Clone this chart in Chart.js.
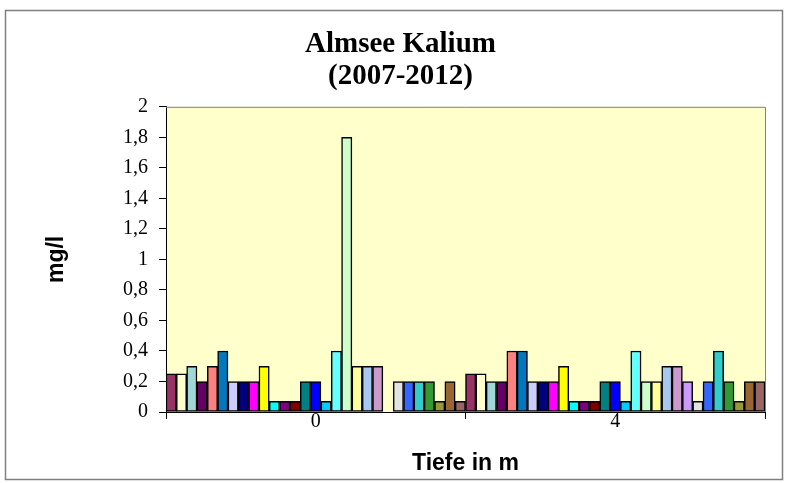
<!DOCTYPE html>
<html>
<head>
<meta charset="utf-8">
<script src="https://cdn.jsdelivr.net/npm/chart.js@4/dist/chart.umd.min.js"></script>
<style>
  html, body { margin: 0; padding: 0; background: #fff; }
  #wrap { width: 789px; height: 483px; }
</style>
</head>
<body>
<div id="wrap"><canvas id="c" width="789" height="483"></canvas></div>
<script>
// ---- data ----
const categories = ['0', '4'];
const titleLines = ['Almsee Kalium', '(2007-2012)'];
const yTitle = 'mg/l';
const xTitle = 'Tiefe in m';
const seriesColors = [
  '#993366', '#FFFFCC', '#A0D8D8', '#660066', '#FF8080', '#0078C0', '#CCCCFF', '#000080',
  '#FF00FF', '#FFFF00', '#00FFFF', '#800080', '#800000', '#008080', '#0000FF', '#00CCFF',
  '#66FFFF', '#CCFFCC', '#FFFF99', '#A6C8F0', '#CC99CC', '#CC99FF', '#E3E3E3', '#3366FF',
  '#33CCCC', '#339933', '#999933', '#996633', '#996666'
];
const depth0Values = [0.25, 0.25, 0.3, 0.2, 0.3, 0.4, 0.2, 0.2, 0.2, 0.3, 0.07, 0.07, 0.07, 0.2, 0.2,
  0.07, 0.4, 1.8, 0.3, 0.3, 0.3, null, 0.2, 0.2, 0.2, 0.2, 0.07, 0.2, 0.07];
const depth4Values = [0.25, 0.25, 0.2, 0.2, 0.4, 0.4, 0.2, 0.2, 0.2, 0.3, 0.07, 0.07, 0.07, 0.2, 0.2,
  0.07, 0.4, 0.2, 0.2, 0.3, 0.3, 0.2, 0.07, 0.2, 0.4, 0.2, 0.07, 0.2, 0.2];
const yMin = 0, yMax = 2, yStep = 0.2;

// ---- build datasets ----
const datasets = seriesColors.map((col, i) => ({
  label: 'Serie ' + (i + 1),
  data: [depth0Values[i], depth4Values[i]],
  backgroundColor: col,
  borderColor: '#000000',
  borderWidth: 1.5,
  borderSkipped: false,
  yAxisID: 'y'
}));

const framePlugin = {
  id: 'frame',
  beforeDraw(chart) {
    const ctx = chart.ctx, a = chart.chartArea;
    ctx.save();
    ctx.fillStyle = '#ffffff';
    ctx.fillRect(0, 0, chart.width, chart.height);
    ctx.strokeStyle = '#7f7f7f';
    ctx.lineWidth = 1.5;
    ctx.strokeRect(5.5, 10.5, 777, 469);
    ctx.fillStyle = '#FFFFCC';
    ctx.fillRect(a.left, a.top, a.right - a.left, a.bottom - a.top);
    ctx.restore();
  },
  afterDatasetsDraw(chart) {
    const ctx = chart.ctx, a = chart.chartArea;
    ctx.save();
    ctx.strokeStyle = '#808080';
    ctx.lineWidth = 1;
    ctx.beginPath();
    ctx.moveTo(a.left, a.top + 0.5);
    ctx.lineTo(a.right + 0.5, a.top + 0.5);
    ctx.lineTo(a.right + 0.5, a.bottom);
    ctx.stroke();
    ctx.restore();
  }
};

new Chart(document.getElementById('c'), {
  type: 'bar',
  data: { labels: categories, datasets },
  plugins: [framePlugin],
  options: {
    responsive: false,
    animation: false,
    locale: 'de-DE',
    layout: { padding: { left: 12, right: 0, top: 0, bottom: 0 } },
    datasets: { bar: { categoryPercentage: 1.0, barPercentage: 1.0 } },
    plugins: {
      legend: { display: false },
      tooltip: { enabled: false },
      title: {
        display: true,
        text: titleLines,
        color: '#000',
        font: { family: 'Liberation Serif', size: 29, weight: 'bold', lineHeight: 1.1 },
        padding: { top: 29, bottom: 14 }
      }
    },
    scales: {
      x: {
        afterFit(s) { s.height = 71; },
        grid: { offset: true, drawOnChartArea: false, tickLength: 7, color: '#000', lineWidth: 1 },
        border: { color: '#000', width: 1 },
        ticks: { color: '#000', padding: -9, font: { family: 'Liberation Serif', size: 20 } },
        title: {
          display: true, text: xTitle, color: '#000',
          font: { family: 'Liberation Sans', size: 23, weight: 'bold' },
          padding: { top: 0, bottom: 6 }
        }
      },
      y: {
        min: yMin, max: yMax,
        afterFit(s) { s.width = 154; },
        grid: { drawOnChartArea: false, tickLength: 7, color: '#000', lineWidth: 1 },
        border: { color: '#000', width: 1 },
        ticks: {
          stepSize: yStep, color: '#000', padding: 11,
          font: { family: 'Liberation Serif', size: 20 },
          callback: v => Number(v.toFixed(1)).toLocaleString('de-DE')
        },
        title: {
          display: true, text: yTitle, color: '#000',
          font: { family: 'Liberation Sans', size: 23, weight: 'bold' },
          padding: { top: 31, bottom: 0 }
        }
      },
      yRight: {
        position: 'right',
        min: yMin, max: yMax,
        afterFit(s) { s.width = 24; },
        grid: { display: false, drawTicks: false },
        border: { display: false },
        ticks: { display: false }
      }
    }
  }
});
</script>
</body>
</html>
